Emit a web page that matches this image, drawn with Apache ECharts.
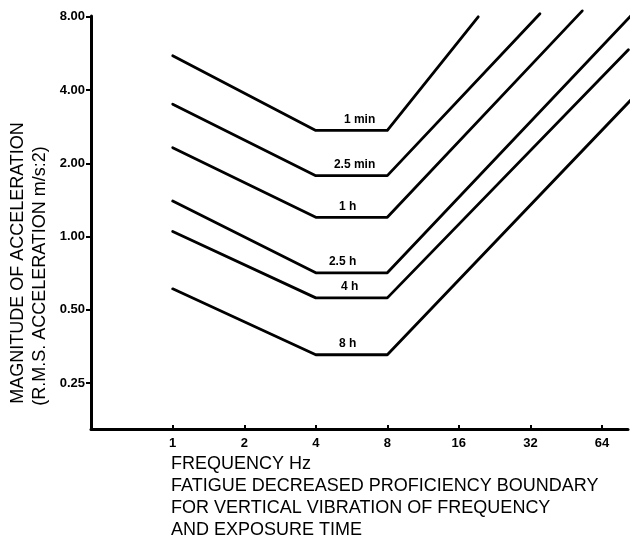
<!DOCTYPE html>
<html><head><meta charset="utf-8">
<script src="https://cdn.jsdelivr.net/npm/echarts@6/dist/echarts.min.js"></script>
<style>html,body{margin:0;padding:0;background:#fff}#c{width:636px;height:542px}</style>
</head><body><div id="c"></div>
<script>
// ---- data ----
const curveNames = ['1 min', '2.5 min', '1 h', '2.5 h', '4 h', '8 h'];
const startFreq = [1, 1, 1, 1, 1, 1];
const startAccel = [5.53, 3.5, 2.32, 1.4, 1.05, 0.61];
const plateauStartFreq = [4, 4, 4, 4, 4, 4];
const plateauEndFreq = [8, 8, 8, 8, 8, 8];
const plateauAccel = [2.73, 1.78, 1.2, 0.71, 0.56, 0.327];
const endFreq = [19.3, 35.1, 52.9, 84.6, 82.7, 89];
const endAccel = [8.0, 8.23, 8.46, 8.07, 5.86, 3.83];
const xTicks = [1, 2, 4, 8, 16, 32, 64];
const yTicks = [0.25, 0.5, 1, 2, 4, 8];
const yTickLabels = ['0.25', '0.50', '1.00', '2.00', '4.00', '8.00'];
const xTitle = 'FREQUENCY Hz';
const captionLines = ['FATIGUE DECREASED PROFICIENCY BOUNDARY', 'FOR VERTICAL VIBRATION OF FREQUENCY', 'AND EXPOSURE TIME'];
const yTitleLines = ['MAGNITUDE OF ACCELERATION', '(R.M.S. ACCELERATION m/s:2)'];

// ---- styles ----
const labelDx = [8, 3, -4, -9, -2, -4];
const FONT = '"Liberation Sans", Arial, Helvetica, sans-serif';

const chart = echarts.init(document.getElementById('c'), null, {renderer: 'canvas'});

const series = curveNames.map((name, i) => ({
  type: 'line',
  name: name,
  clip: false,
  symbol: 'none',
  lineStyle: {color: '#000', width: 2.8, cap: 'round', join: 'round'},
  data: [
    [startFreq[i], startAccel[i]],
    [plateauStartFreq[i], plateauAccel[i]],
    [plateauEndFreq[i], plateauAccel[i]],
    [endFreq[i], endAccel[i]]
  ],
  markPoint: {
    symbol: 'circle', symbolSize: 1,
    itemStyle: {color: 'rgba(0,0,0,0)'},
    label: {show: true, position: 'inside', offset: [labelDx[i], -11], color: '#000',
      fontFamily: FONT, fontSize: 12, fontWeight: 'bold', formatter: name},
    data: [{coord: [Math.sqrt(plateauStartFreq[i] * plateauEndFreq[i]), plateauAccel[i]]}]
  }
}));

const textStyleBase = {fill: '#000', fontFamily: FONT};
const graphics = [];
graphics.push({type: 'text', x: 18, y: 263, rotation: Math.PI / 2,
  style: Object.assign({text: yTitleLines[0], fontSize: 18, align: 'center', verticalAlign: 'middle'}, textStyleBase)});
graphics.push({type: 'text', x: 40, y: 276, rotation: Math.PI / 2,
  style: Object.assign({text: yTitleLines[1], fontSize: 18, align: 'center', verticalAlign: 'middle'}, textStyleBase)});
[xTitle].concat(captionLines).forEach((t, k) => {
  graphics.push({type: 'text', x: 171, y: 464 + k * 22,
    style: Object.assign({text: t, fontSize: 18, align: 'left', verticalAlign: 'middle'}, textStyleBase)});
});

chart.setOption({
  animation: false,
  backgroundColor: '#fff',
  grid: {left: 91, right: 8, top: 16, bottom: 113, containLabel: false},
  xAxis: {
    type: 'log', logBase: 2, min: 0.453, max: 82.4,
    axisLine: {show: true, lineStyle: {color: '#000', width: 3}},
    axisTick: {show: true, inside: true, length: 4, lineStyle: {color: '#000', width: 2}, customValues: xTicks},
    axisLabel: {show: true, customValues: xTicks, color: '#000', fontFamily: FONT, fontSize: 13, fontWeight: 'bold', margin: 8,
      formatter: v => String(Math.round(v))},
    splitLine: {show: false}, minorTick: {show: false}
  },
  yAxis: {
    type: 'log', logBase: 2, min: 0.162, max: 8.06,
    axisLine: {show: true, lineStyle: {color: '#000', width: 3}},
    axisTick: {show: true, inside: false, length: 5, lineStyle: {color: '#000', width: 2}, customValues: yTicks},
    axisLabel: {show: true, customValues: yTicks, color: '#000', fontFamily: FONT, fontSize: 13, fontWeight: 'bold', margin: 6,
      formatter: v => { const idx = yTicks.findIndex(t => Math.abs(t - v) < 1e-6); return idx >= 0 ? yTickLabels[idx] : ''; }},
    splitLine: {show: false}, minorTick: {show: false}
  },
  graphic: graphics,
  series: series
});
</script>
</body></html>
